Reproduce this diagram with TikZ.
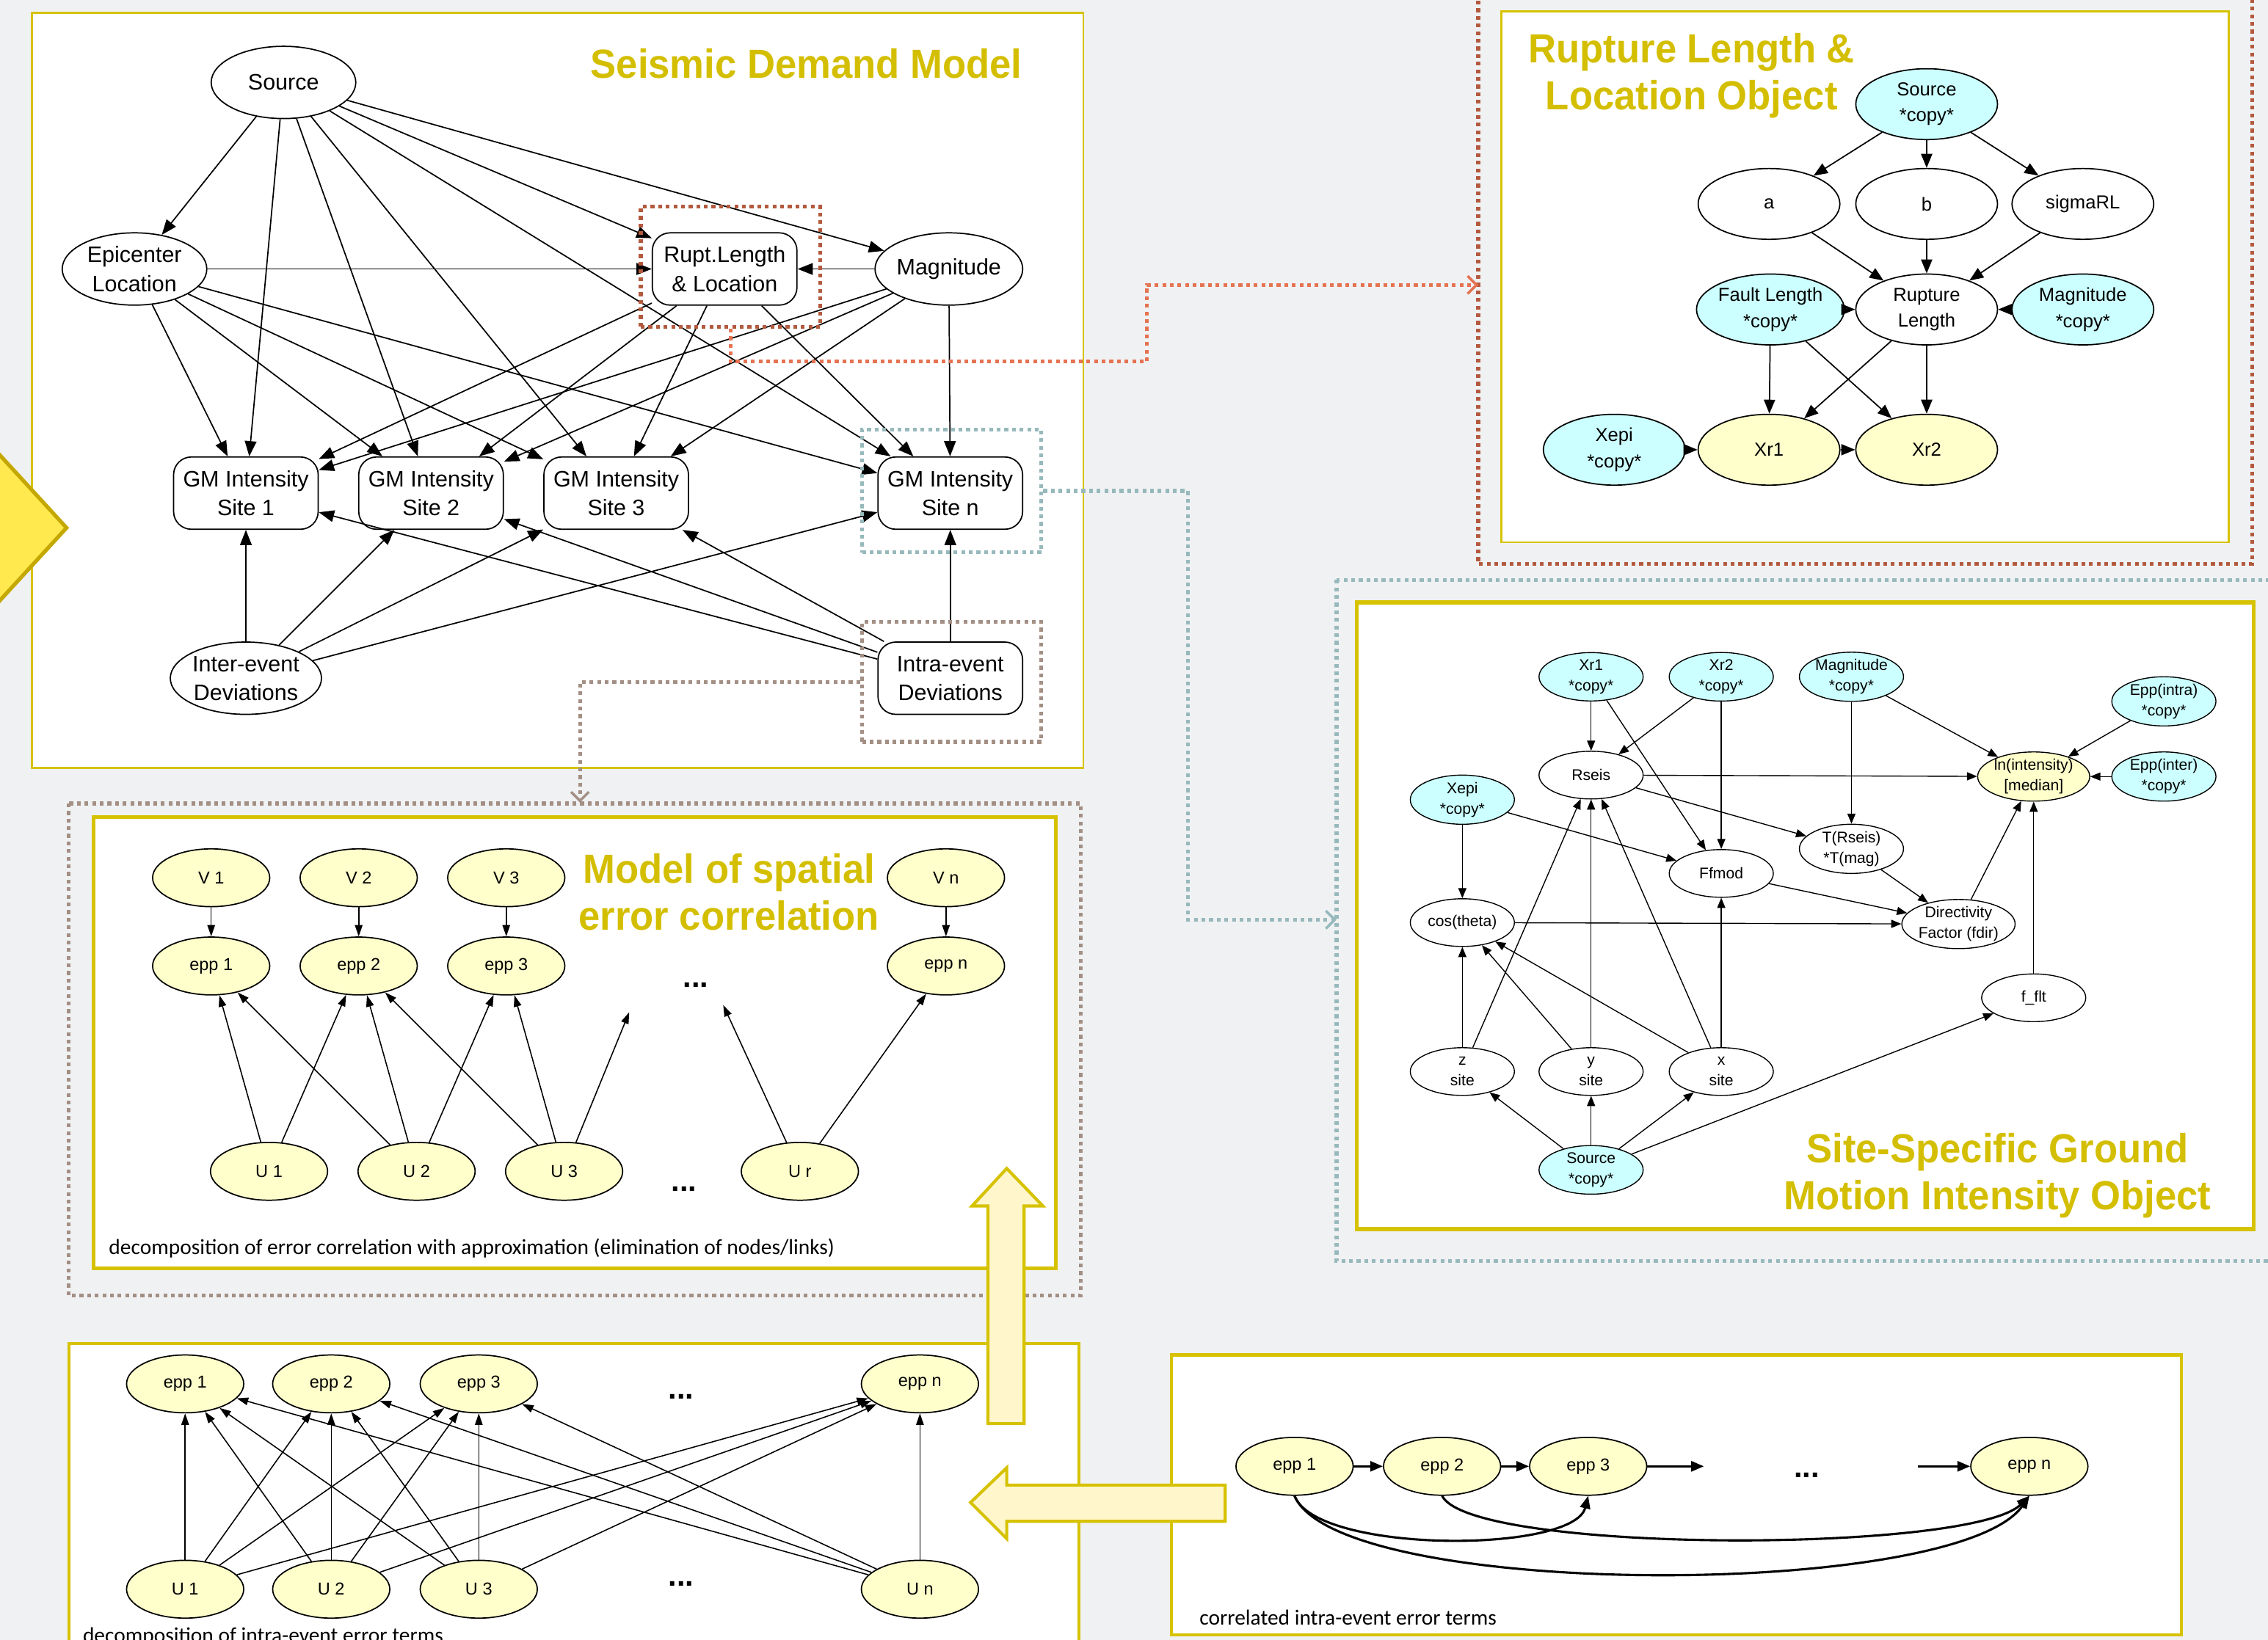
\documentclass[tikz,border=0pt]{standalone}
\usepackage{fontspec}
\setmainfont{Liberation Sans}
\newfontfamily\titlefont[FakeStretch=0.95]{Liberation Sans}
\newfontfamily\notefont{Carlito}
\usetikzlibrary{arrows.meta, shapes.geometric}
\definecolor{bgray}{HTML}{F0F1F3}
\definecolor{panelyellow}{HTML}{D6C200}
\definecolor{titleyellow}{HTML}{D4BE00}
\definecolor{copycyan}{HTML}{CCFFFF}
\definecolor{nodeyellow}{HTML}{FFFFCC}
\definecolor{rustdot}{HTML}{B35A3E}
\definecolor{orangedot}{HTML}{E57352}
\definecolor{tealdot}{HTML}{97B9BB}
\definecolor{taupedot}{HTML}{A38F84}
\definecolor{bigyellow}{HTML}{FFE94F}
\definecolor{bigedge}{HTML}{C4A800}
\definecolor{paleyellow}{HTML}{FFF6CC}
\tikzset{
  bnell/.style={ellipse, draw, fill=white, inner sep=0pt, align=center},
  bnbox/.style={rectangle, rounded corners=7pt, draw, fill=white, inner sep=0pt, align=center},
  demand/.style={font=\fontsize{8.8}{11.3}\selectfont, minimum width=2cm,
                 minimum height=1cm, line width=0.5pt},
  rupobj/.style={bnell, font=\fontsize{7.4}{10.2}\selectfont, minimum width=1.96cm,
                 minimum height=0.98cm, line width=0.5pt},
  site/.style={bnell, font=\fontsize{6.1}{8}\selectfont, minimum width=1.44cm,
               minimum height=0.66cm, line width=0.4pt},
  corr/.style={bnell, fill=nodeyellow, font=\fontsize{6.8}{8}\selectfont,
               minimum width=1.62cm, minimum height=0.8cm, line width=0.5pt},
  copy/.style={fill=copycyan},
  goal/.style={fill=nodeyellow},
  panel/.style={draw=panelyellow, fill=white},
  title/.style={font=\titlefont\bfseries\fontsize{16}{18.5}\selectfont,
                text=titleyellow, align=center, inner sep=0pt},
  note/.style={font=\notefont\fontsize{8.5}{10}\selectfont, inner sep=0pt},
  dots/.style={font=\bfseries\fontsize{12}{12}\selectfont, inner sep=0pt},
  dotline/.style={line width=1.5pt, dash pattern=on 1.5pt off 1.5pt},
  frame/.style={rectangle, draw, dotline, inner sep=0pt},
  hop/.style={dotline, -{Straight Barb[length=3.5pt, width=7pt, line width=1pt]}},
  dem/.style={-{Triangle[length=6pt, width=4.6pt]}, line width=0.5pt},
  rup/.style={-{Triangle[length=5.5pt, width=4.4pt]}, line width=0.5pt},
  sit/.style={-{Triangle[length=4pt, width=3.2pt]}, line width=0.4pt},
  cor/.style={-{Triangle[length=4.5pt, width=3pt]}, line width=0.45pt},
  chain/.style={-{Triangle[length=5pt, width=4pt]}, line width=0.9pt},
  bigarrow/.style={fill=paleyellow, draw=panelyellow, line width=1.2pt},
}
\begin{document}
\begin{tikzpicture}[x=0.02cm, y=-0.02cm]
  \useasboundingbox (0,0) rectangle (1568,1134);
  \clip (0,0) rectangle (1568,1134);
  \fill[bgray] (0,0) rectangle (1568,1134);

  % outer dotted frames
  \draw[dotline, rustdot] (1022,-10) rectangle (1557,390);
  \draw[dotline, tealdot] (924,401) rectangle (1590,872);
  \draw[dotline, taupedot] (47.5,555.6) rectangle (747,896);

  % panels
  \draw[panel, line width=0.8pt] (22,9) rectangle (749,531);
  \draw[panel, line width=0.8pt] (1038,8) rectangle (1541,375);
  \draw[panel, line width=1.6pt] (938,416.5) rectangle (1558,850);
  \draw[panel, line width=1.5pt] (64.5,565) rectangle (730,877);
  \draw[panel, line width=1.2pt] (47.5,929) rectangle (746,1160);
  \draw[panel, line width=1.2pt] (810,937) rectangle (1508,1130.6);

  % Seismic Demand Model
  \node[title, anchor=east] (demandtitle) at (707,44) {Seismic Demand Model};
  \node[bnell, demand] (src) at (196,57) {Source};
  \node[bnell, demand] (epi) at (93,186) {Epicenter\\Location};
  \node[bnbox, demand] (rupt) at (501,186) {Rupt.Length\\\& Location};
  \node[bnell, demand] (mag) at (656,186) {Magnitude};
  \foreach \s/\x in {1/170,2/298,3/426,n/657}
    \node[bnbox, demand] (gm\s) at (\x,341) {GM Intensity\\Site \s};
  \node[bnell, demand] (inter) at (170,469) {Inter-event\\Deviations};
  \node[bnbox, demand] (intra) at (657,469) {Intra-event\\Deviations};

  \foreach \t in {epi,rupt,mag,gm1,gm2,gm3,gmn}
    \draw[dem] (src) -- (\t);
  \foreach \t in {rupt,gm1,gm2,gm3,gmn}
    \draw[dem] (epi) -- (\t);
  \draw[dem] (mag) -- (rupt);
  \foreach \t in {gm1,gm2,gm3,gmn}{
    \draw[dem] (rupt) -- (\t);
    \draw[dem] (mag) -- (\t);
    \draw[dem] (inter) -- (\t);
    \draw[dem] (intra) -- (\t);
  }

  \node[frame, rustdot, minimum width=2.48cm, minimum height=1.66cm] (ruptframe) at (505,184.5) {};
  \node[frame, tealdot, minimum width=2.48cm, minimum height=1.7cm] (gmframe) at (658,339.5) {};
  \node[frame, taupedot, minimum width=2.48cm, minimum height=1.66cm] (intraframe) at (658,471.5) {};

  \coordinate (ruptin) at (1022,197);
  \coordinate (sitein) at (924,636);
  \coordinate (spatialin) at (401,555);
  \draw[hop, orangedot] (ruptframe.south) -- (505,250) -- (793,250) -- (793,197) -- (ruptin);
  \draw[hop, tealdot] (gmframe.east) -- ++(100,0) |- (sitein);
  \draw[hop, taupedot] (intraframe.west) -| (spatialin);

  % Rupture Length & Location Object
  \node[title] (ruptitle) at (1169.5,52.5) {Rupture Length \&\\Location Object};
  \node[rupobj, copy] (rsrc) at (1332,72) {Source\\*copy*};
  \node[rupobj] (ra) at (1223,141) {a};
  \node[rupobj] (rb) at (1332,141) {b};
  \node[rupobj] (rsig) at (1440,141) {sigmaRL};
  \node[rupobj, copy] (rfault) at (1224,214) {Fault Length\\*copy*};
  \node[rupobj] (rlen) at (1332,214) {Rupture\\Length};
  \node[rupobj, copy] (rmag) at (1440,214) {Magnitude\\*copy*};
  \node[rupobj, copy] (rxepi) at (1116,311) {Xepi\\*copy*};
  \node[rupobj, goal] (rxr1) at (1223,311) {Xr1};
  \node[rupobj, goal] (rxr2) at (1332,311) {Xr2};
  \foreach \a/\b in {rsrc/ra, rsrc/rb, rsrc/rsig, ra/rlen, rb/rlen, rsig/rlen,
                     rfault/rlen, rmag/rlen, rfault/rxr1, rfault/rxr2,
                     rlen/rxr1, rlen/rxr2, rxepi/rxr1, rxr1/rxr2}
    \draw[rup] (\a) -- (\b);

  % Site-Specific Ground Motion Intensity Object
  \node[site, copy] (sxr1) at (1100,468) {Xr1\\*copy*};
  \node[site, copy] (sxr2) at (1190,468) {Xr2\\*copy*};
  \node[site, copy] (smag) at (1280,468) {Magnitude\\*copy*};
  \node[site, copy] (sintra) at (1496,485) {Epp(intra)\\*copy*};
  \node[site] (srseis) at (1100,536) {Rseis};
  \node[site, goal] (sln) at (1406,537) {ln(intensity)\\{[median]}};
  \node[site, copy] (sinter) at (1496,537) {Epp(inter)\\*copy*};
  \node[site, copy] (sxepi) at (1011,553) {Xepi\\*copy*};
  \node[site] (strs) at (1280,587) {T(Rseis)\\*T(mag)};
  \node[site] (sffmod) at (1190,604) {Ffmod};
  \node[site] (scos) at (1011,638) {cos(theta)};
  \node[site] (sdir) at (1354,639) {Directivity\\Factor (fdir)};
  \node[site] (sfflt) at (1406,690) {f\_flt};
  \node[site] (sz) at (1011,741) {z\\site};
  \node[site] (sy) at (1100,741) {y\\site};
  \node[site] (sx) at (1190,741) {x\\site};
  \node[site, copy] (ssrc) at (1100,809) {Source\\*copy*};
  \foreach \a/\b in {sxr1/srseis, sxr1/sffmod, sxr2/srseis, sxr2/sffmod,
                     smag/strs, smag/sln, sintra/sln, sinter/sln,
                     srseis/sln, srseis/strs, sxepi/sffmod, sxepi/scos,
                     strs/sdir, sffmod/sdir, scos/sdir, sdir/sln, sfflt/sln,
                     sz/scos, sz/srseis, sy/srseis, sy/scos, sx/scos,
                     sx/srseis, sx/sffmod, ssrc/sz, ssrc/sy, ssrc/sx, ssrc/sfflt}
    \draw[sit] (\a) -- (\b);
  \node[title] (sitetitle) at (1381,813) {Site-Specific Ground\\Motion Intensity Object};

  % Model of spatial error correlation
  \node[title] (spatialtitle) at (504,617) {Model of spatial\\error correlation};
  \foreach \s/\x in {1/146,2/248,3/350,n/654}{
    \node[corr] (v\s) at (\x,607) {V \s};
    \node[corr] (ce\s) at (\x,668) {epp \s};
    \draw[cor] (v\s) -- (ce\s);
  }
  \foreach \s/\x in {1/186,2/288,3/390,r/553}
    \node[corr] (u\s) at (\x,810) {U \s};
  \coordinate (u3free) at (435,700);
  \coordinate (urfree) at (500,695);
  \foreach \a/\b in {u1/ce1, u1/ce2, u2/ce1, u2/ce2, u2/ce3, u3/ce2, u3/ce3, ur/cen}
    \draw[cor] (\a) -- (\b);
  \draw[cor] (u3) -- (u3free);
  \draw[cor] (ur) -- (urfree);
  \node[dots] (spatialdotsA) at (481,681) {...};
  \node[dots] (spatialdotsB) at (473,822) {...};
  \node[note, anchor=west] (spatialnote) at (75,863)
    {decomposition of error correlation with approximation (elimination of nodes/links)};

  % decomposition of intra-event error terms
  \foreach \s/\x in {1/128,2/229,3/331,n/636}{
    \node[corr] (de\s) at (\x,957) {epp \s};
    \node[corr] (du\s) at (\x,1099) {U \s};
  }
  \foreach \a in {1,2,3,n}
    \foreach \b in {1,2,3,n}
      \draw[cor] (du\a) -- (de\b);
  \node[dots] (intradotsA) at (471,966) {...};
  \node[dots] (intradotsB) at (471,1095) {...};
  \node[note, anchor=base west] (intranote) at (57,1136) {decomposition of intra-event error terms};

  % correlated intra-event error terms
  \foreach \s/\x in {1/895,2/997,3/1098,n/1403}
    \node[corr] (ke\s) at (\x,1014) {epp \s};
  \coordinate (chainout) at (1178,1014);
  \coordinate (chainin) at (1326,1014);
  \draw[chain] (ke1) -- (ke2);
  \draw[chain] (ke2) -- (ke3);
  \draw[chain] (ke3) -- (chainout);
  \draw[chain] (chainin) -- (ken);
  \draw[chain] (ke1.south) .. controls +(15,40) and +(-10,40) .. (ke3.south);
  \draw[chain] (ke2.south) .. controls +(20,40) and +(-40,40) .. (ken.south);
  \draw[chain] (ke1.south) .. controls +(30,72) and +(-50,72) .. (ken.south);
  \node[dots] (chaindots) at (1249,1020) {...};
  \node[note, anchor=west] (chainnote) at (829,1118.5) {correlated intra-event error terms};

  % big arrows
  \filldraw[fill=bigyellow, draw=bigedge, line width=1.5pt] (-20,293) -- (46,365) -- (-20,437) -- cycle;
  \filldraw[bigarrow] (683,984.5) -- (683,834) -- (672,834) -- (696,808) -- (721,834)
    -- (708,834) -- (708,984.5) -- cycle;
  \filldraw[bigarrow] (847,1027) -- (696,1027) -- (696,1015) -- (671,1039) -- (696,1064)
    -- (696,1052) -- (847,1052) -- cycle;
\end{tikzpicture}
\end{document}
